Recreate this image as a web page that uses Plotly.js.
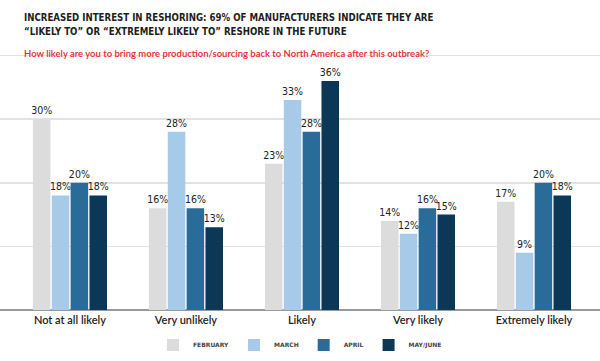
<!DOCTYPE html>
<html>
<head>
<meta charset="utf-8">
<script src="https://cdn.plot.ly/plotly-3.0.1.min.js"></script>
<style>html,body{margin:0;padding:0;background:#fff;}#chart{width:600px;height:361px;}</style>
</head>
<body>
<div id="chart"></div>
<script>
const categories = ["Not at all likely", "Very unlikely", "Likely", "Very likely", "Extremely likely"];
const seriesNames = ["FEBRUARY", "MARCH", "APRIL", "MAY/JUNE"];
const february = [30, 16, 23, 14, 17];
const march = [18, 28, 33, 12, 9];
const april = [20, 16, 28, 16, 20];
const mayJune = [18, 13, 36, 15, 18];
const yTicks = [10, 20, 30, 40];
const titleLines = ["INCREASED INTEREST IN RESHORING: 69% OF MANUFACTURERS INDICATE THEY ARE", "“LIKELY TO” OR “EXTREMELY LIKELY TO” RESHORE IN THE FUTURE"];
const subtitleText = "How likely are you to bring more production/sourcing back to North America after this outbreak?";

const colors = ["#dcdcdc", "#a8cae9", "#2a6c99", "#0b3856"];
const allValues = [february, march, april, mayJune];

const traces = allValues.map((vals, i) => ({
  type: "bar",
  name: seriesNames[i],
  x: categories,
  y: vals,
  marker: {color: colors[i], line: {width: 0}},
  text: vals.map(v => v + "%"),
  textposition: "outside",
  constraintext: "none",
  cliponaxis: false,
  textfont: {family: "DejaVu Sans Condensed, Liberation Sans Narrow, sans-serif", size: 10.5, color: "#222"},
  hoverinfo: "skip"
}));

const plotTop = 54, plotBottom = 310, plotH = plotBottom - plotTop;
const py = px => (plotBottom - px) / plotH;
const titleFont = {family: "DejaVu Sans Condensed, Liberation Sans Narrow, sans-serif", size: 9.6, color: "#1e1e1e", weight: 700};

const layout = {
  width: 600, height: 361,
  margin: {l: 0, r: 0, t: plotTop, b: 361 - plotBottom},
  paper_bgcolor: "#fff", plot_bgcolor: "#fff",
  barmode: "group",
  bargap: 0.35,
  bargroupgap: 0.07,
  showlegend: true,
  annotations: [
    {text: titleLines[0], xref: "paper", yref: "paper", x: 22/600, xanchor: "left", y: py(17), yanchor: "middle", showarrow: false, font: titleFont},
    {text: titleLines[1], xref: "paper", yref: "paper", x: 22/600, xanchor: "left", y: py(31), yanchor: "middle", showarrow: false, font: titleFont},
    {text: subtitleText, xref: "paper", yref: "paper", x: 22/600, xanchor: "left", y: py(53), yanchor: "middle", showarrow: false,
     font: {family: "Lato, Liberation Sans, sans-serif", size: 9.5, color: "#e8262d", weight: 600}}
  ],
  xaxis: {
    type: "category",
    range: [-0.603, 4.569],
    showgrid: false,
    showline: false,
    zeroline: false,
    ticks: "",
    ticklabelstandoff: 2,
    tickfont: {family: "Lato, Liberation Sans, sans-serif", size: 11, color: "#222", weight: 600},
    fixedrange: true
  },
  yaxis: {
    range: [0, 40.24],
    tickvals: yTicks,
    showticklabels: false,
    showgrid: true,
    gridcolor: "#e2e2e2",
    gridwidth: 1.5,
    zeroline: true,
    zerolinecolor: "#9a9a9a",
    zerolinewidth: 2,
    showline: false,
    fixedrange: true
  },
  legend: {
    orientation: "h",
    x: 0.255, xanchor: "left",
    y: py(345), yanchor: "middle",
    font: {family: "DejaVu Sans, sans-serif", size: 6, color: "#444", weight: 700},
    bgcolor: "rgba(0,0,0,0)",
    traceorder: "normal"
  }
};

Plotly.newPlot("chart", traces, layout, {displayModeBar: false, staticPlot: true});
</script>
</body>
</html>
